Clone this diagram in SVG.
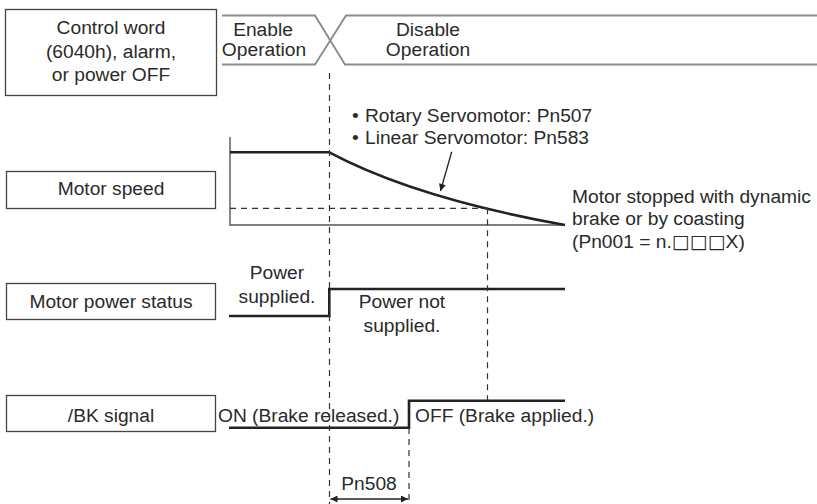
<svg xmlns="http://www.w3.org/2000/svg" width="817" height="504" viewBox="0 0 817 504">
<style>
text{font-family:"Liberation Sans",Arial,"DejaVu Sans",sans-serif;font-size:19.2px;fill:#2a2a2a}
.c{text-anchor:middle}
.box{fill:#fff;stroke:#444;stroke-width:1.3}
.band{fill:none;stroke:#8a8a8a;stroke-width:1.8}
.sig{fill:none;stroke:#222;stroke-width:2.6}
.axis{fill:none;stroke:#555;stroke-width:1.4}
.dash{fill:none;stroke:#333;stroke-width:1.2;stroke-dasharray:6 5}
.sq{font-family:"DejaVu Sans",sans-serif;font-size:19px;font-weight:bold}
</style>
<defs>
<marker id="ah" viewBox="0 0 10 10" refX="10" refY="5" markerWidth="9" markerHeight="7" orient="auto-start-reverse" markerUnits="userSpaceOnUse">
<path d="M0,0 L10,5 L0,10 z" fill="#222"/>
</marker>
</defs>
<g id="control-word">
<rect class="box" x="5.5" y="9.5" width="211" height="86"/>
<text class="c" x="111" y="34">Control word</text>
<text class="c" x="111" y="57.5">(6040h), alarm,</text>
<text class="c" x="111" y="81">or power OFF</text>
</g>
<g id="operation-band">
<path class="band" d="M222,15.5 H315 L345,64.5 H817 M222,64.5 H315 L346,15.5 H817"/>
<text class="c" x="263" y="36">Enable</text>
<text class="c" x="264" y="56">Operation</text>
<text class="c" x="428" y="36">Disable</text>
<text class="c" x="428" y="56">Operation</text>
</g>
<g id="motor-speed">
<rect class="box" x="6.5" y="171.5" width="209" height="37"/>
<text class="c" x="111" y="195">Motor speed</text>
<path class="axis" d="M230,137 V225 H565"/>
<path class="sig" d="M230,152.3 H329.3 Q415,198 565,225"/>
<text x="352" y="121.7">•</text>
<text x="365" y="121.7">Rotary Servomotor: Pn507</text>
<text x="352" y="144">•</text>
<text x="365" y="144">Linear Servomotor: Pn583</text>
<text x="572" y="202.5">Motor stopped with dynamic</text>
<text x="572" y="225">brake or by coasting</text>
<text x="572" y="248">(Pn001 = n.<tspan class="sq">□□□</tspan>X)</text>
</g>
<g id="motor-power-status">
<rect class="box" x="6.5" y="283.5" width="209" height="36"/>
<text class="c" x="111" y="308.3">Motor power status</text>
<path class="sig" d="M229,316 H329.3 V289 H565"/>
<text class="c" x="277" y="279">Power</text>
<text class="c" x="277" y="303.3">supplied.</text>
<text class="c" x="402" y="308.3">Power not</text>
<text class="c" x="402" y="332.3">supplied.</text>
</g>
<g id="bk-signal">
<rect class="box" x="6.5" y="395.5" width="209" height="36"/>
<text class="c" x="111" y="421.7">/BK signal</text>
<path class="sig" d="M229,427.7 H409 V400.7 H565"/>
<text x="218" y="421.7">ON (Brake released.)</text>
<text x="415" y="421.7">OFF (Brake applied.)</text>
<text class="c" x="369" y="490">Pn508</text>
</g>
<g id="connectors">
<path class="dash" d="M329.5,73 V504"/>
<path class="dash" d="M230,208.3 H487.5"/>
<path class="dash" d="M487.5,208.3 V400"/>
<path class="dash" d="M409,428 V504"/>
<path fill="none" stroke="#222" stroke-width="1.3" d="M451.7,151.7 L440.5,191" marker-end="url(#ah)"/>
<path fill="none" stroke="#222" stroke-width="1.5" d="M330.5,499 H408" marker-start="url(#ah)" marker-end="url(#ah)"/>
</g>
</svg>
